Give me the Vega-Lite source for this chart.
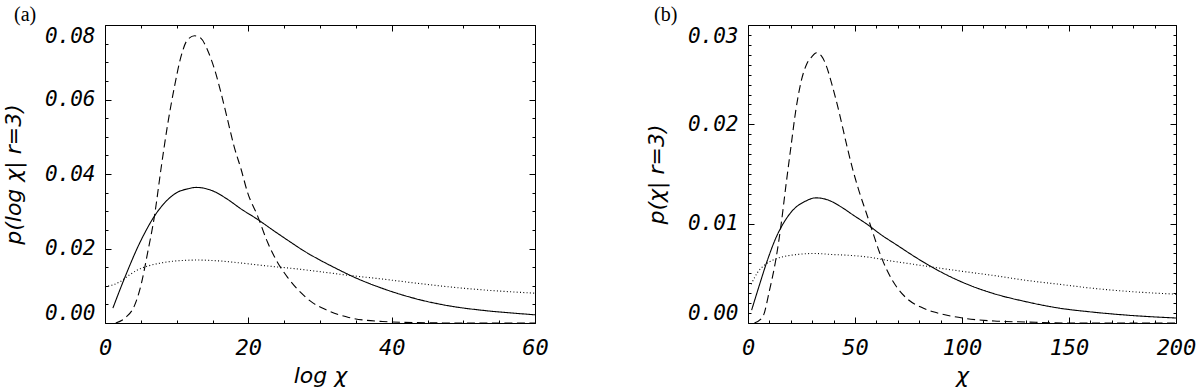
{
  "$schema": "https://vega.github.io/schema/vega-lite/v6.json",
  "padding": {"left": 1, "top": 4, "right": 5, "bottom": 5},
  "background": "white",
  "spacing": 213,
  "bounds": "flush",
  "datasets": {
    "a": [
      {"x": 1.1, "y": 0.004, "s": "solid"}, {"x": 2.2, "y": 0.0095, "s": "solid"}, {"x": 3.4, "y": 0.0152, "s": "solid"}, {"x": 4.6, "y": 0.0205, "s": "solid"}, {"x": 5.5, "y": 0.024, "s": "solid"}, {"x": 6.9, "y": 0.0287, "s": "solid"}, {"x": 8.3, "y": 0.0322, "s": "solid"}, {"x": 10.1, "y": 0.0351, "s": "solid"}, {"x": 11.5, "y": 0.036, "s": "solid"}, {"x": 12.7, "y": 0.0364, "s": "solid"}, {"x": 14.0, "y": 0.0361, "s": "solid"}, {"x": 15.0, "y": 0.0355, "s": "solid"}, {"x": 17.1, "y": 0.0332, "s": "solid"}, {"x": 19.0, "y": 0.0306, "s": "solid"}, {"x": 21.3, "y": 0.0278, "s": "solid"}, {"x": 23.6, "y": 0.0247, "s": "solid"}, {"x": 25.9, "y": 0.0217, "s": "solid"}, {"x": 27.8, "y": 0.0193, "s": "solid"}, {"x": 29.7, "y": 0.0172, "s": "solid"}, {"x": 32.2, "y": 0.0147, "s": "solid"}, {"x": 35.0, "y": 0.0121, "s": "solid"}, {"x": 38.7, "y": 0.0093, "s": "solid"}, {"x": 43.4, "y": 0.0065, "s": "solid"}, {"x": 48.0, "y": 0.0046, "s": "solid"}, {"x": 52.7, "y": 0.0034, "s": "solid"}, {"x": 57.3, "y": 0.0026, "s": "solid"}, {"x": 60.0, "y": 0.0022, "s": "solid"},
      {"x": 1.5, "y": 0.0, "s": "dashed"}, {"x": 2.9, "y": 0.0015, "s": "dashed"}, {"x": 4.1, "y": 0.0046, "s": "dashed"}, {"x": 5.0, "y": 0.01, "s": "dashed"}, {"x": 5.95, "y": 0.0189, "s": "dashed"}, {"x": 6.9, "y": 0.0287, "s": "dashed"}, {"x": 7.8, "y": 0.0412, "s": "dashed"}, {"x": 8.7, "y": 0.0528, "s": "dashed"}, {"x": 9.7, "y": 0.0635, "s": "dashed"}, {"x": 10.6, "y": 0.0715, "s": "dashed"}, {"x": 11.5, "y": 0.076, "s": "dashed"}, {"x": 12.5, "y": 0.0771, "s": "dashed"}, {"x": 13.4, "y": 0.0764, "s": "dashed"}, {"x": 14.3, "y": 0.0733, "s": "dashed"}, {"x": 15.3, "y": 0.068, "s": "dashed"}, {"x": 16.2, "y": 0.0617, "s": "dashed"}, {"x": 17.1, "y": 0.0546, "s": "dashed"}, {"x": 18.0, "y": 0.0475, "s": "dashed"}, {"x": 19.0, "y": 0.0412, "s": "dashed"}, {"x": 19.9, "y": 0.035, "s": "dashed"}, {"x": 21.3, "y": 0.0287, "s": "dashed"}, {"x": 22.7, "y": 0.0216, "s": "dashed"}, {"x": 24.1, "y": 0.0162, "s": "dashed"}, {"x": 25.5, "y": 0.0122, "s": "dashed"}, {"x": 27.3, "y": 0.0082, "s": "dashed"}, {"x": 29.0, "y": 0.0054, "s": "dashed"}, {"x": 30.8, "y": 0.0036, "s": "dashed"}, {"x": 34.0, "y": 0.0015, "s": "dashed"}, {"x": 38.7, "y": 0.0004, "s": "dashed"}, {"x": 43.4, "y": 0.0001, "s": "dashed"}, {"x": 50.0, "y": 0.0, "s": "dashed"}, {"x": 60.0, "y": 0.0, "s": "dashed"},
      {"x": 0.0, "y": 0.0097, "s": "dotted"}, {"x": 2.2, "y": 0.0112, "s": "dotted"}, {"x": 3.4, "y": 0.0129, "s": "dotted"}, {"x": 4.6, "y": 0.0143, "s": "dotted"}, {"x": 6.0, "y": 0.0153, "s": "dotted"}, {"x": 7.8, "y": 0.0161, "s": "dotted"}, {"x": 10.1, "y": 0.0167, "s": "dotted"}, {"x": 12.9, "y": 0.0169, "s": "dotted"}, {"x": 15.7, "y": 0.0167, "s": "dotted"}, {"x": 19.0, "y": 0.0161, "s": "dotted"}, {"x": 22.7, "y": 0.0153, "s": "dotted"}, {"x": 26.4, "y": 0.0146, "s": "dotted"}, {"x": 29.9, "y": 0.0138, "s": "dotted"}, {"x": 34.0, "y": 0.0128, "s": "dotted"}, {"x": 38.7, "y": 0.0118, "s": "dotted"}, {"x": 43.4, "y": 0.0107, "s": "dotted"}, {"x": 48.0, "y": 0.0097, "s": "dotted"}, {"x": 52.7, "y": 0.0089, "s": "dotted"}, {"x": 60.0, "y": 0.008, "s": "dotted"}
    ],
    "b": [
      {"x": 1.7, "y": 0.0013, "s": "solid"}, {"x": 5.3, "y": 0.0038, "s": "solid"}, {"x": 9.2, "y": 0.0064, "s": "solid"}, {"x": 13.1, "y": 0.0086, "s": "solid"}, {"x": 17.0, "y": 0.0102, "s": "solid"}, {"x": 21.6, "y": 0.0115, "s": "solid"}, {"x": 26.3, "y": 0.0122, "s": "solid"}, {"x": 31.8, "y": 0.0126, "s": "solid"}, {"x": 37.2, "y": 0.0124, "s": "solid"}, {"x": 43.4, "y": 0.0117, "s": "solid"}, {"x": 49.6, "y": 0.0108, "s": "solid"}, {"x": 55.9, "y": 0.0099, "s": "solid"}, {"x": 62.1, "y": 0.0089, "s": "solid"}, {"x": 69.9, "y": 0.0078, "s": "solid"}, {"x": 77.7, "y": 0.0067, "s": "solid"}, {"x": 85.4, "y": 0.0057, "s": "solid"}, {"x": 93.2, "y": 0.0048, "s": "solid"}, {"x": 100.2, "y": 0.0041, "s": "solid"}, {"x": 114.2, "y": 0.003, "s": "solid"}, {"x": 129.8, "y": 0.00215, "s": "solid"}, {"x": 145.3, "y": 0.0015, "s": "solid"}, {"x": 160.9, "y": 0.0011, "s": "solid"}, {"x": 176.5, "y": 0.0008, "s": "solid"}, {"x": 200.0, "y": 0.0005, "s": "solid"},
      {"x": 3.0, "y": 0.0, "s": "dashed"}, {"x": 6.85, "y": 0.0006, "s": "dashed"}, {"x": 9.96, "y": 0.0032, "s": "dashed"}, {"x": 13.1, "y": 0.0065, "s": "dashed"}, {"x": 15.4, "y": 0.0098, "s": "dashed"}, {"x": 17.7, "y": 0.0138, "s": "dashed"}, {"x": 20.1, "y": 0.0178, "s": "dashed"}, {"x": 22.4, "y": 0.0215, "s": "dashed"}, {"x": 24.7, "y": 0.0242, "s": "dashed"}, {"x": 27.5, "y": 0.0261, "s": "dashed"}, {"x": 29.8, "y": 0.0268, "s": "dashed"}, {"x": 32.0, "y": 0.0272, "s": "dashed"}, {"x": 34.3, "y": 0.0269, "s": "dashed"}, {"x": 36.4, "y": 0.026, "s": "dashed"}, {"x": 39.5, "y": 0.0238, "s": "dashed"}, {"x": 42.6, "y": 0.0212, "s": "dashed"}, {"x": 45.8, "y": 0.0182, "s": "dashed"}, {"x": 48.9, "y": 0.0155, "s": "dashed"}, {"x": 52.0, "y": 0.0132, "s": "dashed"}, {"x": 55.1, "y": 0.0112, "s": "dashed"}, {"x": 58.2, "y": 0.0092, "s": "dashed"}, {"x": 61.3, "y": 0.0072, "s": "dashed"}, {"x": 65.2, "y": 0.0052, "s": "dashed"}, {"x": 69.9, "y": 0.0035, "s": "dashed"}, {"x": 74.6, "y": 0.0024, "s": "dashed"}, {"x": 80.8, "y": 0.0016, "s": "dashed"}, {"x": 87.0, "y": 0.0011, "s": "dashed"}, {"x": 94.8, "y": 0.0007, "s": "dashed"}, {"x": 100.2, "y": 0.0005, "s": "dashed"}, {"x": 115.0, "y": 0.0002, "s": "dashed"}, {"x": 130.0, "y": 0.0001, "s": "dashed"}, {"x": 150.0, "y": 0.0, "s": "dashed"}, {"x": 200.0, "y": 0.0, "s": "dashed"},
      {"x": 1.5, "y": 0.0039, "s": "dotted"}, {"x": 4.5, "y": 0.0051, "s": "dotted"}, {"x": 7.6, "y": 0.0058, "s": "dotted"}, {"x": 12.3, "y": 0.0064, "s": "dotted"}, {"x": 17.0, "y": 0.0067, "s": "dotted"}, {"x": 23.2, "y": 0.0069, "s": "dotted"}, {"x": 31.0, "y": 0.007, "s": "dotted"}, {"x": 38.8, "y": 0.0069, "s": "dotted"}, {"x": 48.1, "y": 0.0068, "s": "dotted"}, {"x": 57.4, "y": 0.0066, "s": "dotted"}, {"x": 65.2, "y": 0.0063, "s": "dotted"}, {"x": 74.6, "y": 0.006, "s": "dotted"}, {"x": 83.9, "y": 0.0057, "s": "dotted"}, {"x": 100.2, "y": 0.0052, "s": "dotted"}, {"x": 114.2, "y": 0.0048, "s": "dotted"}, {"x": 129.8, "y": 0.0043, "s": "dotted"}, {"x": 145.3, "y": 0.0039, "s": "dotted"}, {"x": 160.9, "y": 0.0035, "s": "dotted"}, {"x": 176.5, "y": 0.0032, "s": "dotted"}, {"x": 200.0, "y": 0.0029, "s": "dotted"}
    ]
  },
  "hconcat": [
    {
      "width": 430,
      "height": 298,
      "data": {"name": "a"},
      "title": {"text": "(a)", "anchor": "start", "frame": "group", "dx": -91, "offset": -16, "baseline": "alphabetic", "font": "Liberation Serif", "fontSize": 20, "fontWeight": "normal", "color": "#000"},
      "resolve": {"axis": {"x": "independent", "y": "independent"}},
      "layer": [
        {
          "mark": {"type": "line", "color": "#000", "strokeWidth": 1.1, "interpolate": "monotone"},
          "encoding": {
            "x": {"field": "x", "type": "quantitative", "scale": {"domain": [0, 60], "nice": false, "zero": false},
              "axis": {"orient": "bottom", "values": [0, 20, 40, 60], "ticks": false, "labelFlush": false, "labelFont": "DejaVu Sans Mono", "labelFontSize": 22, "labelPadding": 14, "title": "log  χ", "titleFontSize": 22, "titlePadding": 7}},
            "y": {"field": "y", "type": "quantitative", "scale": {"domain": [0, 0.08], "nice": false, "zero": false},
              "axis": {"orient": "left", "values": [0, 0.02, 0.04, 0.06, 0.08], "format": ".2f", "ticks": false, "labelFlush": true, "labelFont": "DejaVu Sans Mono", "labelFontSize": 21, "labelPadding": 10, "title": "p(log  χ| r=3)", "titleFontSize": 22, "titlePadding": 19}},
            "strokeDash": {"field": "s", "type": "nominal", "scale": {"domain": ["solid", "dashed", "dotted"], "range": [[1, 0], [8, 4.5], [1, 2.3]]}, "legend": null}
          }
        },
        {
          "mark": {"type": "point", "opacity": 0},
          "encoding": {
            "x": {"field": "x", "type": "quantitative", "axis": {"orient": "bottom", "values": [0, 20, 40, 60], "labels": false, "title": null, "tickSize": 6, "offset": -6}},
            "y": {"field": "y", "type": "quantitative", "axis": {"orient": "left", "values": [0, 0.02, 0.04, 0.06, 0.08], "labels": false, "title": null, "tickSize": 6, "offset": -6}}
          }
        },
        {
          "mark": {"type": "point", "opacity": 0},
          "encoding": {
            "x": {"field": "x", "type": "quantitative", "axis": {"orient": "bottom", "values": [5, 10, 15, 25, 30, 35, 45, 50, 55], "labels": false, "title": null, "tickSize": 3, "offset": -3}},
            "y": {"field": "y", "type": "quantitative", "axis": {"orient": "left", "values": [0.005, 0.01, 0.015, 0.025, 0.03, 0.035, 0.045, 0.05, 0.055, 0.065, 0.07, 0.075], "labels": false, "title": null, "tickSize": 3, "offset": -3}}
          }
        },
        {
          "mark": {"type": "point", "opacity": 0},
          "encoding": {
            "x": {"field": "x", "type": "quantitative", "axis": {"orient": "top", "values": [0, 20, 40, 60], "labels": false, "title": null, "tickSize": 6, "offset": -6}},
            "y": {"field": "y", "type": "quantitative", "axis": {"orient": "right", "values": [0, 0.02, 0.04, 0.06, 0.08], "labels": false, "title": null, "tickSize": 6, "offset": -6}}
          }
        },
        {
          "mark": {"type": "point", "opacity": 0},
          "encoding": {
            "x": {"field": "x", "type": "quantitative", "axis": {"orient": "top", "values": [5, 10, 15, 25, 30, 35, 45, 50, 55], "labels": false, "title": null, "tickSize": 3, "offset": -3}},
            "y": {"field": "y", "type": "quantitative", "axis": {"orient": "right", "values": [0.005, 0.01, 0.015, 0.025, 0.03, 0.035, 0.045, 0.05, 0.055, 0.065, 0.07, 0.075], "labels": false, "title": null, "tickSize": 3, "offset": -3}}
          }
        }
      ]
    },
    {
      "width": 428,
      "height": 298,
      "data": {"name": "b"},
      "title": {"text": "(b)", "anchor": "start", "frame": "group", "dx": -94, "offset": -16, "baseline": "alphabetic", "font": "Liberation Serif", "fontSize": 20, "fontWeight": "normal", "color": "#000"},
      "resolve": {"axis": {"x": "independent", "y": "independent"}},
      "layer": [
        {
          "mark": {"type": "line", "color": "#000", "strokeWidth": 1.1, "interpolate": "monotone"},
          "encoding": {
            "x": {"field": "x", "type": "quantitative", "scale": {"domain": [0, 200], "nice": false, "zero": false},
              "axis": {"orient": "bottom", "values": [0, 50, 100, 150, 200], "ticks": false, "labelFlush": false, "labelFont": "DejaVu Sans Mono", "labelFontSize": 22, "labelPadding": 14, "title": "χ", "titleFontSize": 22, "titlePadding": 7}},
            "y": {"field": "y", "type": "quantitative", "scale": {"domain": [0, 0.03], "nice": false, "zero": false},
              "axis": {"orient": "left", "values": [0, 0.01, 0.02, 0.03], "format": ".2f", "ticks": false, "labelFlush": true, "labelFont": "DejaVu Sans Mono", "labelFontSize": 21, "labelPadding": 10, "title": "p(χ| r=3)", "titleFontSize": 22, "titlePadding": 19}},
            "strokeDash": {"field": "s", "type": "nominal", "scale": {"domain": ["solid", "dashed", "dotted"], "range": [[1, 0], [8, 4.5], [1, 2.3]]}, "legend": null}
          }
        },
        {
          "mark": {"type": "point", "opacity": 0},
          "encoding": {
            "x": {"field": "x", "type": "quantitative", "axis": {"orient": "bottom", "values": [0, 50, 100, 150, 200], "labels": false, "title": null, "tickSize": 6, "offset": -6}},
            "y": {"field": "y", "type": "quantitative", "axis": {"orient": "left", "values": [0, 0.01, 0.02, 0.03], "labels": false, "title": null, "tickSize": 6, "offset": -6}}
          }
        },
        {
          "mark": {"type": "point", "opacity": 0},
          "encoding": {
            "x": {"field": "x", "type": "quantitative", "axis": {"orient": "bottom", "values": [10, 20, 30, 40, 60, 70, 80, 90, 110, 120, 130, 140, 160, 170, 180, 190], "labels": false, "title": null, "tickSize": 3, "offset": -3}},
            "y": {"field": "y", "type": "quantitative", "axis": {"orient": "left", "values": [0.001, 0.002, 0.003, 0.004, 0.005, 0.006, 0.007, 0.008, 0.009, 0.011, 0.012, 0.013, 0.014, 0.015, 0.016, 0.017, 0.018, 0.019, 0.021, 0.022, 0.023, 0.024, 0.025, 0.026, 0.027, 0.028, 0.029], "labels": false, "title": null, "tickSize": 3, "offset": -3}}
          }
        },
        {
          "mark": {"type": "point", "opacity": 0},
          "encoding": {
            "x": {"field": "x", "type": "quantitative", "axis": {"orient": "top", "values": [0, 50, 100, 150, 200], "labels": false, "title": null, "tickSize": 6, "offset": -6}},
            "y": {"field": "y", "type": "quantitative", "axis": {"orient": "right", "values": [0, 0.01, 0.02, 0.03], "labels": false, "title": null, "tickSize": 6, "offset": -6}}
          }
        },
        {
          "mark": {"type": "point", "opacity": 0},
          "encoding": {
            "x": {"field": "x", "type": "quantitative", "axis": {"orient": "top", "values": [10, 20, 30, 40, 60, 70, 80, 90, 110, 120, 130, 140, 160, 170, 180, 190], "labels": false, "title": null, "tickSize": 3, "offset": -3}},
            "y": {"field": "y", "type": "quantitative", "axis": {"orient": "right", "values": [0.001, 0.002, 0.003, 0.004, 0.005, 0.006, 0.007, 0.008, 0.009, 0.011, 0.012, 0.013, 0.014, 0.015, 0.016, 0.017, 0.018, 0.019, 0.021, 0.022, 0.023, 0.024, 0.025, 0.026, 0.027, 0.028, 0.029], "labels": false, "title": null, "tickSize": 3, "offset": -3}}
          }
        }
      ]
    }
  ],
  "config": {
    "view": {"stroke": "#000", "strokeWidth": 1},
    "axis": {"domain": false, "grid": false, "tickColor": "#000", "tickWidth": 1, "labelColor": "#000", "titleColor": "#000", "labelFont": "DejaVu Sans", "titleFont": "DejaVu Sans", "labelFontStyle": "italic", "titleFontStyle": "italic", "titleFontWeight": "normal", "labelOverlap": false}
  }
}
